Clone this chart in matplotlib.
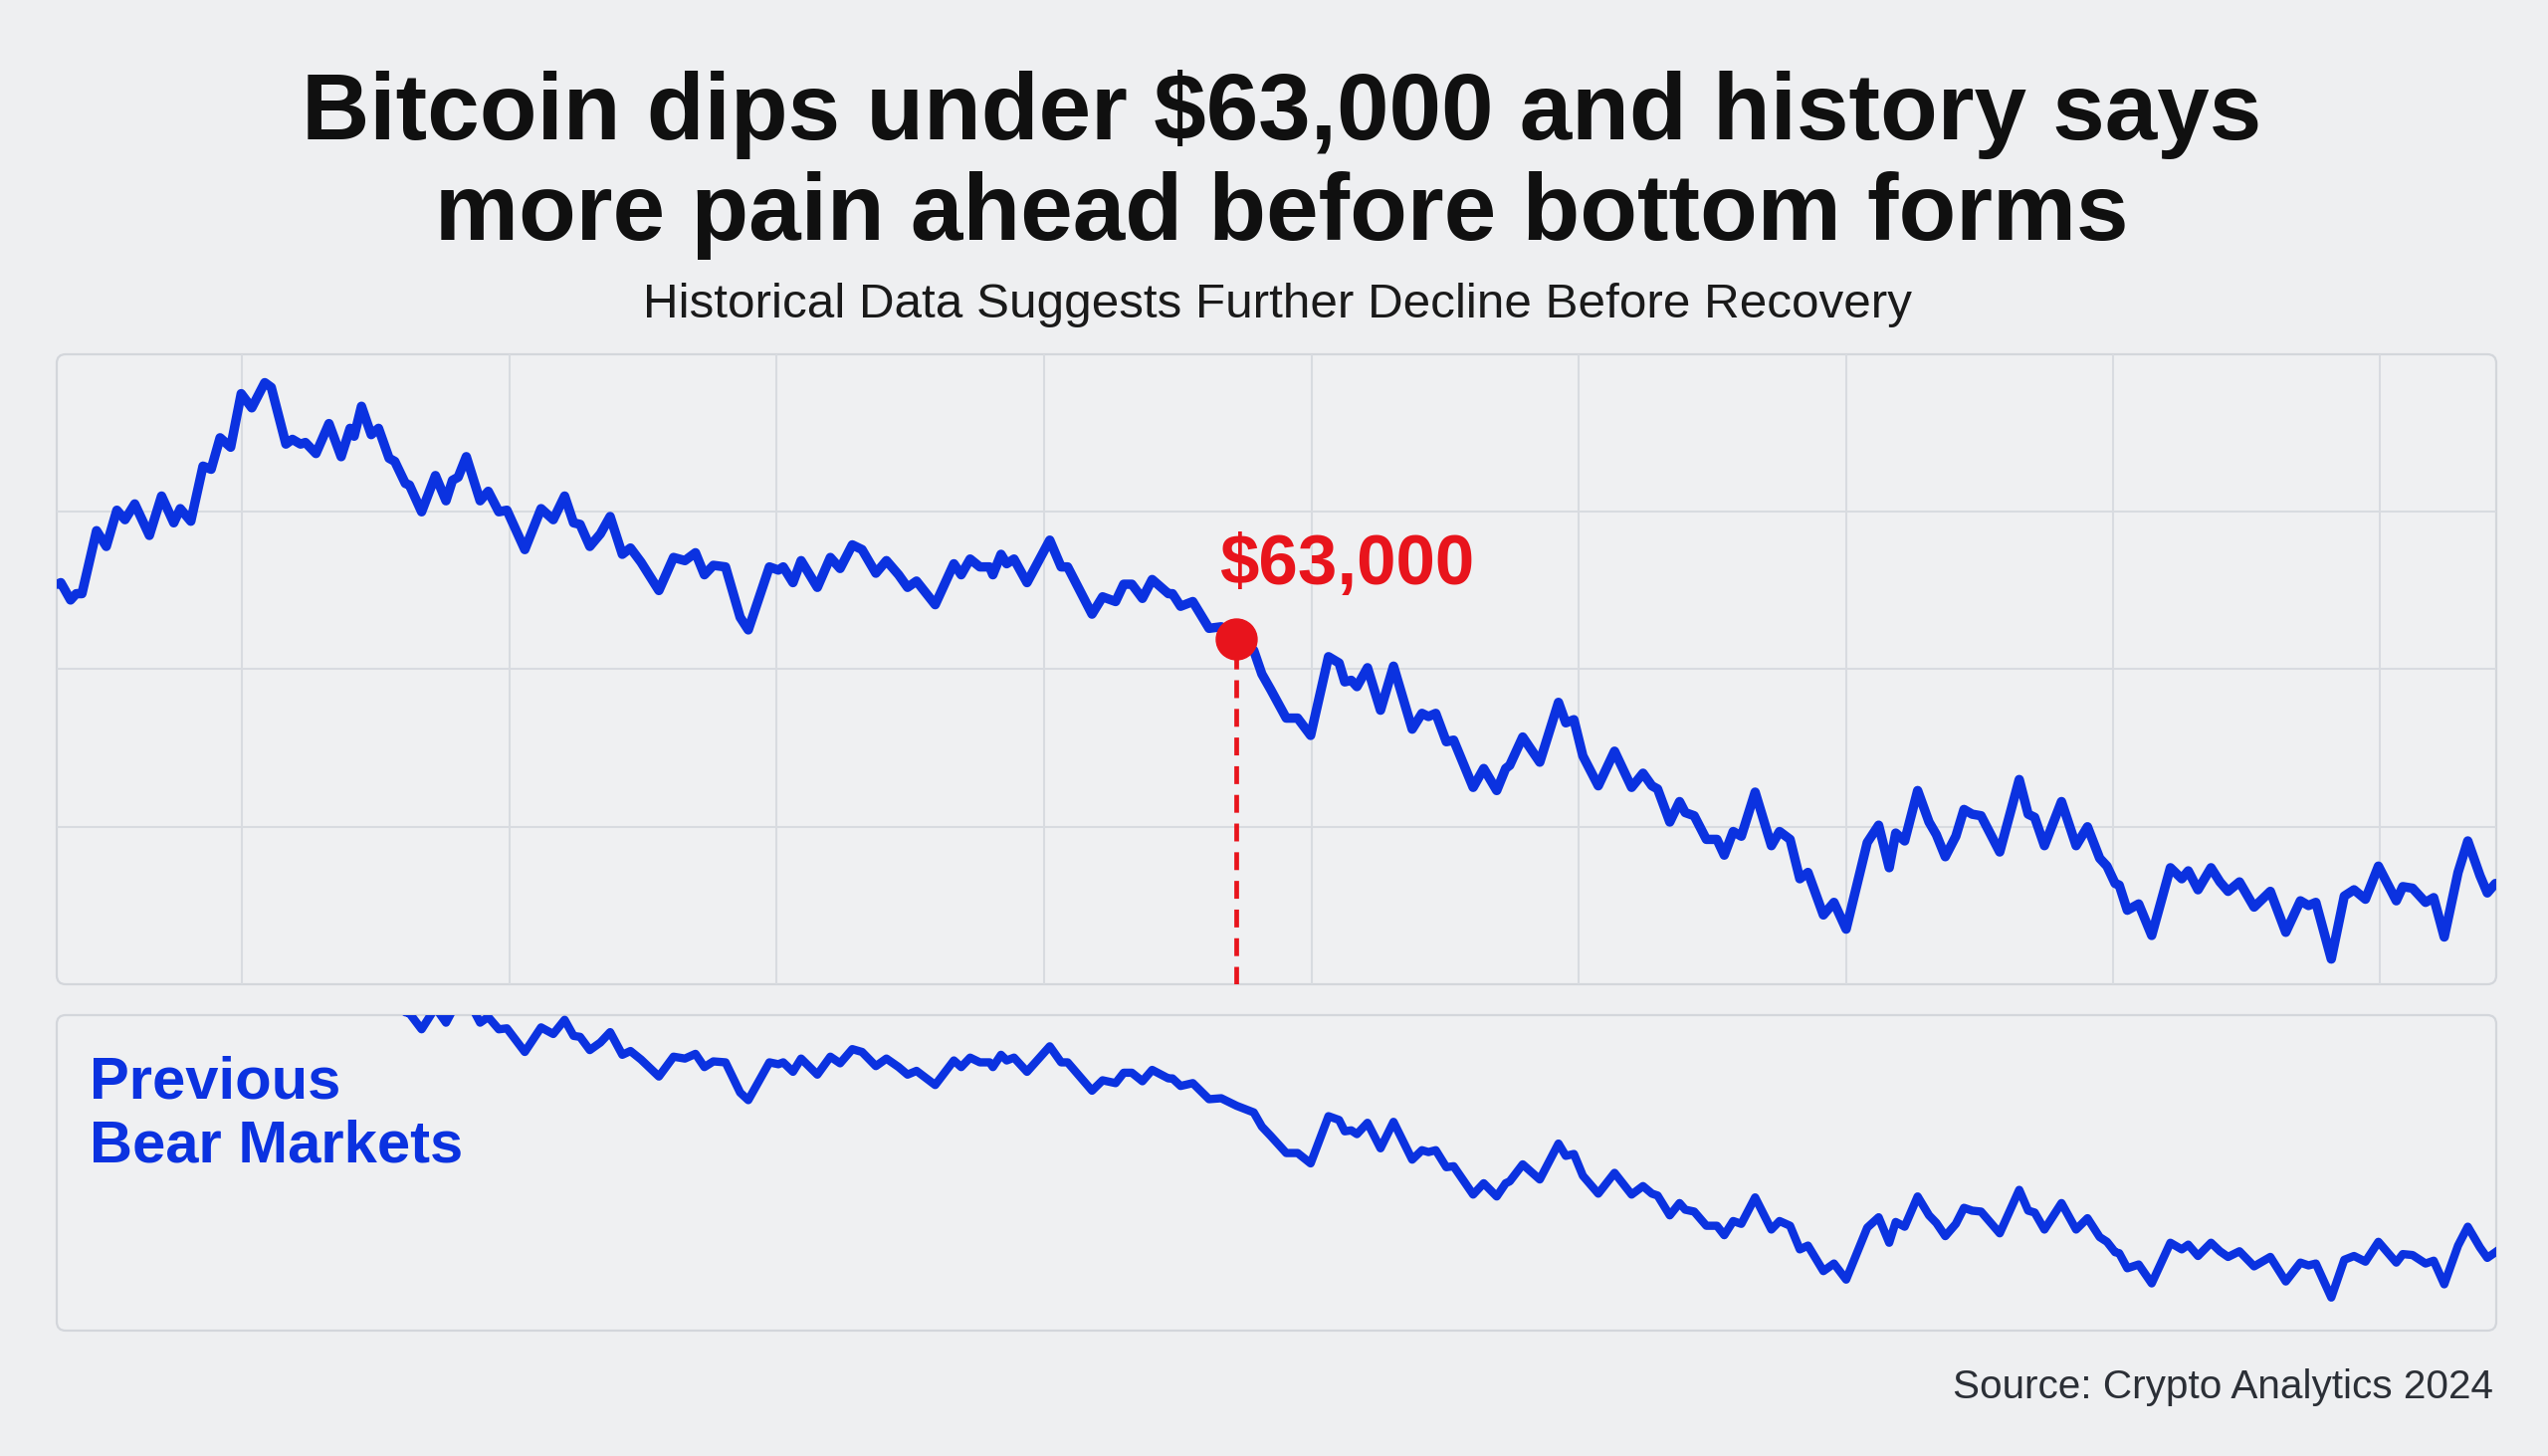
import matplotlib
matplotlib.use("Agg")
import matplotlib.pyplot as plt
from matplotlib.patches import FancyBboxPatch

# price path (day, $k)
days = [0.1, 0.5, 1.7, 2.4, 3.1, 4.9, 6.1, 7.4, 8.4, 9.6, 11.4, 12.9, 14.4, 15.2, 16.5,
        18.0, 19.0, 20.1, 21.4, 22.7, 24.0, 25.6, 26.4, 28.2, 29.0, 30.0, 30.6, 31.9,
        33.5, 35.0, 36.1, 36.6, 37.5, 38.7, 39.6, 40.9, 41.6, 42.9, 43.4, 44.9, 46.6,
        47.9, 48.7, 49.4, 50.4, 52.1, 53.1, 54.4, 55.4, 57.6, 59.6, 61.1, 62.5, 63.6,
        64.4, 65.6, 66.9, 68.1, 69.6, 70.6, 71.9, 74.1, 75.9,
        77.3, 78.6, 79.7, 80.8, 82.3, 84.1, 85.1, 87.7, 88.8, 89.4, 90.6, 91.6, 93.6,
        95.2, 96.4, 97.9, 99.1, 100.8, 102.1, 103.6, 104.7, 105.8, 108.1, 110.4, 111.3,
        112.4, 113.6, 114.8, 115.2, 116.2, 116.9, 117.8, 119.4, 122.2, 123.6, 124.4,
        127.4, 128.7, 130.3, 131.3, 132.3, 133.6, 134.8, 136.8, 137.3, 138.3, 139.8,
        141.8, 143.3, 145.2, 147.3, 148.3, 149.4, 151.3,
        152.7, 154.3, 156.5, 157.8, 158.5, 159.3, 160.0, 161.3, 162.9, 164.5, 166.8,
        168.0, 168.8, 169.7, 171.0, 171.9, 174.3, 175.6, 177.2, 178.3, 178.8, 180.4,
        182.5, 184.8, 185.7, 186.7, 187.8, 189.7, 191.7, 193.8, 195.2, 196.3, 197.0,
        198.5, 199.7, 200.4, 201.5, 203.0, 204.3, 205.2, 206.3, 207.3, 209.0, 211.0,
        212.0, 213.3, 214.5, 215.5, 217.4, 218.7, 220.2, 222.8, 224.2, 225.5,
        226.3, 227.4, 229.0, 230.4, 231.3, 232.4, 233.7, 234.7, 235.7, 236.8, 239.1,
        241.5, 242.6, 243.4, 244.6, 246.7, 248.5, 249.9, 251.4, 252.3, 253.3, 253.8,
        254.8, 256.2, 257.8, 260.1, 261.5, 262.3, 263.5, 265.1, 266.2, 267.2, 268.6,
        270.4, 272.4, 274.3, 276.1, 277.1, 278.0, 279.9, 281.5, 282.7, 284.1, 285.7,
        287.9, 288.7, 289.9, 291.5, 292.5, 293.8, 295.5, 296.7, 298.2, 299.1, 300.1]
prices = [65.4, 65.5, 64.4, 64.8, 64.8, 68.8, 67.8, 70.1, 69.5, 70.5, 68.5, 71.0, 69.3, 70.2, 69.4,
          72.9, 72.7, 74.7, 74.1, 77.5, 76.6, 78.2, 77.9, 74.3, 74.6, 74.3, 74.4, 73.7,
          75.6, 73.5, 75.3, 74.8, 76.7, 74.9, 75.3, 73.4, 73.2, 71.8, 71.7, 70.0, 72.3,
          70.7, 72.0, 72.2, 73.5, 70.7, 71.3, 70.0, 70.1, 67.6, 70.2, 69.5, 71.0, 69.3,
          69.2, 67.8, 68.6, 69.7, 67.3, 67.7, 66.8, 65.0, 67.1,
          66.9, 67.4, 66.0, 66.6, 66.5, 63.3, 62.5, 66.5, 66.3, 66.5, 65.5, 66.9, 65.2,
          67.1, 66.4, 67.9, 67.6, 66.1, 66.9, 66.0, 65.2, 65.6, 64.1, 66.7, 66.0,
          67.0, 66.5, 66.5, 66.0, 67.3, 66.7, 67.0, 65.5, 68.2, 66.5, 66.5,
          63.5, 64.6, 64.3, 65.4, 65.4, 64.5, 65.7, 64.8, 64.8, 64.0, 64.3,
          62.6, 62.7, 61.9, 61.2, 59.7, 58.7, 56.9,
          56.9, 55.8, 60.8, 60.4, 59.2, 59.3, 58.9, 60.1, 57.4, 60.2, 56.2,
          57.2, 57.0, 57.2, 55.4, 55.5, 52.5, 53.7, 52.3, 53.7, 53.9, 55.7,
          54.1, 57.9, 56.6, 56.8, 54.5, 52.6, 54.8, 52.5, 53.4, 52.6, 52.4,
          50.3, 51.6, 50.9, 50.7, 49.2, 49.2, 48.2, 49.7, 49.4, 52.2, 48.8,
          49.7, 49.2, 46.7, 47.1, 44.4, 45.2, 43.5, 49.0, 50.1, 47.4,
          49.6, 49.1, 52.3, 50.3, 49.5, 48.1, 49.4, 51.1, 50.8, 50.7, 48.4,
          53.0, 50.8, 50.6, 48.8, 51.6, 48.8, 50.0, 48.0, 47.5, 46.4, 46.3,
          44.7, 45.1, 43.1, 47.4, 46.7, 47.2, 46.0, 47.4, 46.5, 45.9, 46.5,
          44.9, 45.9, 43.3, 45.3, 45.0, 45.2, 41.6, 45.6, 46.0, 45.4, 47.5,
          45.3, 46.2, 46.1, 45.2, 45.5, 43.0, 47.1, 49.1, 46.9, 45.8, 46.4]

# the lower "previous bear markets" trace only starts from here
bear_start_day = 41.6

mark_day = 145.2
mark_price = 61.9
mark_label = "$63,000"

grid_days = [22.8, 55.7, 88.6, 121.5, 154.4, 187.3, 220.2, 253.0, 285.9]
grid_prices = [50, 60, 70]

title_1 = "Bitcoin dips under $63,000 and history says"
title_2 = "more pain ahead before bottom forms"
subtitle = "Historical Data Suggests Further Decline Before Recovery"
side_label_1 = "Previous"
side_label_2 = "Bear Markets"
source = "Source: Crypto Analytics 2024"

BG = "#eeeff1"
BLUE = "#0b32e0"
RED = "#e8141c"
W, H = 2560, 1463

plt.rcParams["font.family"] = ["Liberation Sans", "DejaVu Sans"]

fig = plt.figure(figsize=(W / 100, H / 100), dpi=100, facecolor=BG)


def panel(x0, y0, x1, y1):
    # rounded card, coords in pixels from top-left
    box = FancyBboxPatch((x0 / 100, (H - y1) / 100), (x1 - x0) / 100, (y1 - y0) / 100,
                         boxstyle="round,pad=0,rounding_size=0.09",
                         transform=fig.dpi_scale_trans, facecolor="#eff0f2",
                         edgecolor="#d3d6db", lw=1.6, zorder=0)
    fig.add_artist(box)
    ax = fig.add_axes([x0 / W, 1 - y1 / H, (x1 - x0) / W, (y1 - y0) / H])
    ax.set_facecolor("none")
    for s in ax.spines.values():
        s.set_visible(False)
    ax.tick_params(length=0, labelbottom=False, labelleft=False)
    return ax


# main chart
ax = panel(57, 356, 2508, 989)
ax.set_xlim(0, 300.2)
ax.set_ylim(40, 80)
ax.set_xticks(grid_days)
ax.set_yticks(grid_prices)
ax.grid(True, color="#d8dbe0", lw=1.5)
ax.set_axisbelow(True)
ax.plot(days, prices, color=BLUE, lw=6.8, solid_joinstyle="round", solid_capstyle="round", zorder=3)
ax.plot([mark_day, mark_day], [40, mark_price], color=RED, lw=3.4, dashes=(3.8, 2.3), zorder=2)
ax.plot([mark_day], [mark_price], "o", color=RED, ms=29.5, zorder=4)
fig.text(1225 / W, 1 - 587 / H, mark_label, color=RED, fontsize=51, fontweight="bold",
         ha="left", va="baseline")

# previous bear markets panel
ax2 = panel(57, 1020, 2508, 1337)
ax2.set_xlim(0, 300.2)
ax2.set_ylim(38.1, 71.5)
i0 = days.index(bear_start_day)
ax2.plot(days[i0:], prices[i0:], color=BLUE, lw=6, solid_joinstyle="round", zorder=3)
fig.text(90 / W, 1 - 1103 / H, side_label_1, color=BLUE, fontsize=43, fontweight="bold",
         ha="left", va="baseline")
fig.text(90 / W, 1 - 1168 / H, side_label_2, color=BLUE, fontsize=43, fontweight="bold",
         ha="left", va="baseline")

# titles
fig.text(1288 / W, 1 - 140 / H, title_1, color="#101010", fontsize=68, fontweight="bold",
         ha="center", va="baseline")
fig.text(1288 / W, 1 - 241 / H, title_2, color="#101010", fontsize=68, fontweight="bold",
         ha="center", va="baseline")
fig.text(1283 / W, 1 - 319 / H, subtitle, color="#1a1a1a", fontsize=35.6,
         ha="center", va="baseline")
fig.text(2505 / W, 1 - 1405 / H, source, color="#2b2f36", fontsize=29.2,
         ha="right", va="baseline")

fig.savefig("out.png", dpi=100, facecolor=BG)
